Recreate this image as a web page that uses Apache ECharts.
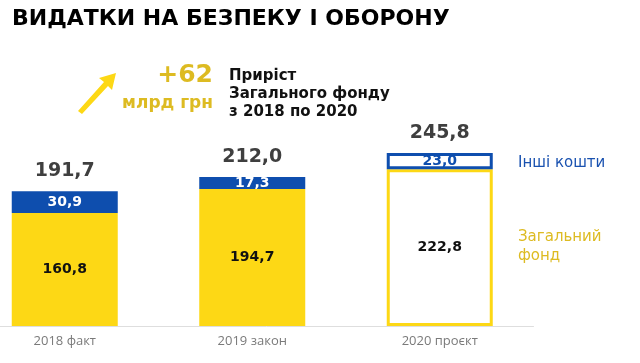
<!DOCTYPE html>
<html>
<head>
<meta charset="utf-8">
<script src="https://cdn.jsdelivr.net/npm/echarts@6/dist/echarts.min.js"></script>
<style>html,body{margin:0;padding:0;background:#fff}#c{width:640px;height:363px}</style>
</head>
<body>
<div id="c"></div>
<script>
const categories = ['2018 факт', '2019 закон', '2020 проєкт'];
const generalFund = [160.8, 194.7, 222.8];
const otherFunds = [30.9, 17.3, 23.0];
const totals = [191.7, 212.0, 245.8];
const fmt = v => v.toFixed(1).replace('.', ',');

const YELLOW = '#FDD815';
const BLUE = '#0E4EAE';
const GOLD = '#DDBB22';
const FONT = '"DejaVu Sans", sans-serif';

const chart = echarts.init(document.getElementById('c'));
chart.setOption({
  animation: false,
  grid: { left: -29, width: 562.5, top: 115, bottom: 37, outerBoundsMode: 'none', containLabel: false },
  xAxis: {
    type: 'category', data: categories,
    axisLine: { lineStyle: { color: '#dedede', width: 1 } },
    axisTick: { show: false },
    axisLabel: { color: '#7a7a7a', fontSize: 13, fontFamily: '"Open Sans", sans-serif', margin: 9 }
  },
  yAxis: { type: 'value', min: 0, max: 300, show: false },
  series: [
    {
      name: 'Загальний фонд', type: 'bar', stack: 's', barWidth: 106,
      data: generalFund.map((v, i) => i === 2
        ? { value: v, itemStyle: { color: '#fff', borderColor: YELLOW, borderWidth: 3 } }
        : { value: v, itemStyle: { color: YELLOW } }),
      label: { show: true, position: 'inside', color: '#111', fontWeight: 'bold', fontSize: 14, fontFamily: FONT, formatter: p => fmt(p.value) }
    },
    {
      name: 'Інші кошти', type: 'bar', stack: 's', barWidth: 106,
      data: otherFunds.map((v, i) => i === 2
        ? { value: v, itemStyle: { color: '#fff', borderColor: BLUE, borderWidth: 3 }, label: { color: BLUE } }
        : { value: v, itemStyle: { color: BLUE } }),
      label: { show: true, position: 'inside', color: '#fff', fontWeight: 'bold', fontSize: 14, fontFamily: FONT, formatter: p => fmt(p.value) }
    },
    {
      name: 'Разом', type: 'line', data: totals, symbol: 'circle', symbolSize: 1,
      itemStyle: { color: 'rgba(0,0,0,0)' }, lineStyle: { width: 0, color: 'rgba(0,0,0,0)' }, silent: true,
      label: { show: true, position: 'top', distance: 10, color: '#3f3f3f', fontWeight: 'bold', fontSize: 19, fontFamily: FONT, formatter: p => fmt(p.value) }
    }
  ],
  graphic: [
    { type: 'text', left: 12, top: 8, style: { text: 'ВИДАТКИ НА БЕЗПЕКУ І ОБОРОНУ', fill: '#000', font: 'bold 22px ' + FONT } },
    { type: 'polygon', shape: { points: [[78,111],[104,82],[99,78],[116,73],[112,90],[108,86],[82,114]] }, style: { fill: YELLOW } },
    { type: 'text', right: 427, top: 63, style: { text: '+62', fill: GOLD, font: 'bold 25px ' + FONT, textAlign: 'right' } },
    { type: 'text', right: 427, top: 95, style: { text: 'млрд грн', fill: GOLD, font: 'bold 17px ' + FONT, textAlign: 'right' } },
    { type: 'text', left: 229, top: 67, style: { text: 'Приріст\nЗагального фонду\nз 2018 по 2020', fill: '#111', font: 'bold 15px ' + FONT, lineHeight: 18 } },
    { type: 'text', left: 518, top: 156, style: { text: 'Інші кошти', fill: '#1A52B0', font: '15px ' + FONT } },
    { type: 'text', left: 518, top: 228, style: { text: 'Загальний\nфонд', fill: GOLD, font: '15px ' + FONT, lineHeight: 19 } }
  ]
});
</script>
</body>
</html>
